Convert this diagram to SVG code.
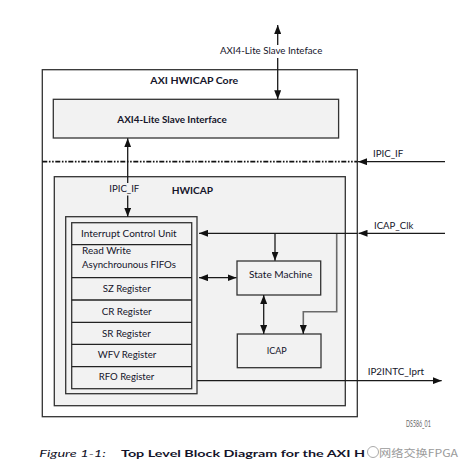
<svg xmlns="http://www.w3.org/2000/svg" width="473" height="475" viewBox="0 0 473 475">
<style>
text{font-family:Lato,"Open Sans","Liberation Sans",sans-serif;fill:#14142a;font-size:10px}
.b{font-weight:bold}
.box{fill:#f2f2f2;stroke:#333;stroke-width:1.3}
.ln{fill:none;stroke:#1a1a1a;stroke-width:1.3}
.gl{fill:none;stroke:#6a6a6a;stroke-width:1.6}
.div{stroke:#222;stroke-width:1.3}
</style>
<defs>
<marker id="ah" viewBox="0 0 10 10" refX="10" refY="5" markerUnits="userSpaceOnUse" markerWidth="9" markerHeight="7" orient="auto-start-reverse" preserveAspectRatio="none">
<path d="M0,0 L10,5 L0,10 z" fill="#111"/>
</marker>
</defs>
<rect width="473" height="475" fill="#fff"/>

<g id="core">
<rect x="42.3" y="69.7" width="315" height="347" fill="#fff" stroke="#333" stroke-width="1.3"/>
<text x="194.2" y="84" class="b" font-size="12" text-anchor="middle" textLength="87.7" lengthAdjust="spacingAndGlyphs">AXI HWICAP Core</text>
</g>

<g id="axi-slave">
<rect x="53.3" y="99.3" width="285.3" height="38.7" class="box"/>
<text x="117.3" y="122.5" class="b" textLength="109.4" lengthAdjust="spacingAndGlyphs">AXI4-Lite Slave Interface</text>
</g>

<g id="hwicap">
<rect x="54.3" y="176.7" width="291" height="229" class="box"/>
<text x="171.7" y="193.5" class="b" font-size="12" textLength="41.3" lengthAdjust="spacingAndGlyphs">HWICAP</text>
</g>

<g id="registers">
<rect x="65.7" y="216.7" width="131.3" height="177" class="box" stroke-width="1.5"/>
<rect x="71.7" y="222.7" width="120" height="166" class="box" stroke-width="1.5" stroke="#222"/>
<line x1="71.7" y1="244.7" x2="191.7" y2="244.7" class="div"/>
<line x1="71.7" y1="277.7" x2="191.7" y2="277.7" class="div"/>
<line x1="71.7" y1="300" x2="191.7" y2="300" class="div"/>
<line x1="71.7" y1="322.3" x2="191.7" y2="322.3" class="div"/>
<line x1="71.7" y1="344.3" x2="191.7" y2="344.3" class="div"/>
<line x1="71.7" y1="366.7" x2="191.7" y2="366.7" class="div"/>
<text x="81" y="237.3" textLength="95.7" lengthAdjust="spacingAndGlyphs">Interrupt Control Unit</text>
<text x="82" y="254" textLength="49" lengthAdjust="spacingAndGlyphs">Read Write</text>
<text x="82" y="268" textLength="94" lengthAdjust="spacingAndGlyphs">Asynchrounous FIFOs</text>
<text x="102.7" y="292.3" textLength="48" lengthAdjust="spacingAndGlyphs">SZ Register</text>
<text x="101.7" y="314.5" textLength="50" lengthAdjust="spacingAndGlyphs">CR Register</text>
<text x="102" y="336.7" textLength="48.7" lengthAdjust="spacingAndGlyphs">SR Register</text>
<text x="97.7" y="358.3" textLength="58.6" lengthAdjust="spacingAndGlyphs">WFV Register</text>
<text x="98.7" y="380.3" textLength="55.6" lengthAdjust="spacingAndGlyphs">RFO Register</text>
</g>

<g id="state-machine">
<rect x="237" y="261" width="83.7" height="34" class="box"/>
<text x="249" y="278.3" textLength="63.3" lengthAdjust="spacingAndGlyphs">State Machine</text>
</g>

<g id="icap">
<rect x="237.3" y="334" width="83.7" height="33.7" class="box"/>
<text x="266.7" y="354.3" textLength="20" lengthAdjust="spacingAndGlyphs">ICAP</text>
</g>

<g id="connectors">
<line x1="42.3" y1="161.7" x2="357.3" y2="161.7" stroke="#111" stroke-width="1.7" stroke-dasharray="5 1.6 1.6 1.6 1.6 1.6"/>
<line x1="277.7" y1="25" x2="277.7" y2="45" class="ln" marker-start="url(#ah)"/>
<line x1="277.7" y1="58" x2="277.7" y2="99.3" class="ln" marker-end="url(#ah)"/>
<line x1="127.7" y1="138.3" x2="127.7" y2="183" class="ln" marker-start="url(#ah)"/>
<line x1="127.7" y1="195.5" x2="127.7" y2="216.7" class="ln" marker-end="url(#ah)"/>
<line x1="445" y1="161.7" x2="358" y2="161.7" class="ln" marker-end="url(#ah)"/>
<line x1="445" y1="233.3" x2="358.5" y2="233.3" class="ln" marker-end="url(#ah)"/>
<path d="M336.7,233.3 V311.7 H303.3 V326" class="gl"/>
<line x1="303.3" y1="325" x2="303.3" y2="334" class="ln" marker-end="url(#ah)"/>
<line x1="357.3" y1="233.3" x2="199" y2="233.3" class="ln" marker-end="url(#ah)"/>
<line x1="275" y1="233.3" x2="275" y2="260.7" class="ln" marker-end="url(#ah)"/>
<line x1="199" y1="277.7" x2="236.5" y2="277.7" class="ln" marker-start="url(#ah)" marker-end="url(#ah)"/>
<line x1="263.7" y1="295" x2="263.7" y2="334" class="ln" marker-start="url(#ah)" marker-end="url(#ah)"/>
<line x1="197" y1="380.7" x2="441.7" y2="380.7" class="ln" marker-end="url(#ah)"/>
</g>

<g id="labels">
<text x="220" y="54" textLength="102.3" lengthAdjust="spacingAndGlyphs">AXI4-Lite Slave Inteface</text>
<text x="373" y="156.7" textLength="30.3" lengthAdjust="spacingAndGlyphs">IPIC_IF</text>
<text x="109.3" y="192" textLength="30" lengthAdjust="spacingAndGlyphs">IPIC_IF</text>
<text x="374" y="229" textLength="39.3" lengthAdjust="spacingAndGlyphs">ICAP_Clk</text>
<text x="367.7" y="375" textLength="56.3" lengthAdjust="spacingAndGlyphs">IP2INTC_Iprt</text>
<text x="406" y="426.5" font-size="5" fill="#555" textLength="24.7" lengthAdjust="spacingAndGlyphs" style="fill:#666">DS586_01</text>
</g>

<g id="caption">
<text x="39.3" y="457.3" font-size="13" font-style="italic" textLength="66.7" lengthAdjust="spacingAndGlyphs">Figure 1-1:</text>
<text x="121" y="457.3" font-size="13" class="b" textLength="244" lengthAdjust="spacingAndGlyphs">Top Level Block Diagram for the AXI H</text>
<circle cx="373" cy="452" r="5.5" fill="none" stroke="#aaa" stroke-width="1"/>
<text x="379" y="457" font-size="12" style="fill:#9a9a9a;font-family:'Noto Sans CJK SC',sans-serif" textLength="79" lengthAdjust="spacingAndGlyphs">网络交换FPGA</text>
</g>
</svg>
